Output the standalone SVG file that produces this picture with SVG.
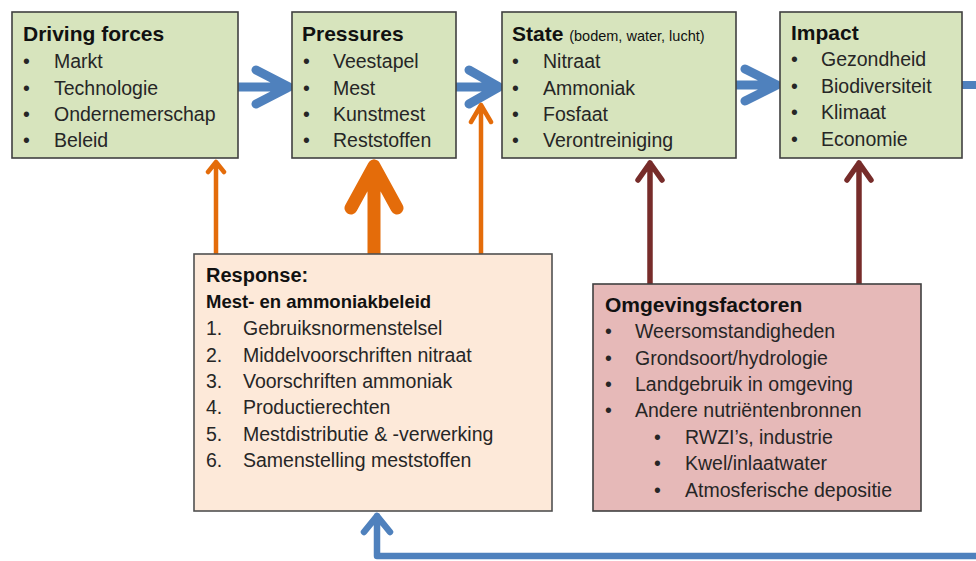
<svg xmlns="http://www.w3.org/2000/svg" width="976" height="561" viewBox="0 0 976 561">
<style>
text{font-family:"Liberation Sans",Arial,sans-serif;fill:#262626}
.t{font-size:21px;font-weight:bold;fill:#111}
.b{font-size:19.5px}
.s{font-size:14.5px;font-weight:normal}
.g{fill:#d7e4bd;stroke:#404040;stroke-width:1.6}
.r{fill:#fde9d9;stroke:#505050;stroke-width:1.6}
.p{fill:#e6b9b8;stroke:#404040;stroke-width:1.6}
.a{fill:none;stroke-linecap:round;stroke-linejoin:round}
.blue{stroke:#4f81bd}
.or{stroke:#e46c0a}
.dr{stroke:#772c2a}
</style>
<g id="connectors">
  <path class="a blue" stroke-width="9" d="M238 87 H289 M256 70 L289 87 L256 104"/>
  <path class="a blue" stroke-width="9" d="M456 87 H499 M469 70 L499 87 L469 104"/>
  <path class="a blue" stroke-width="9" d="M736 85 H777 M745 69 L777 85 L745 101"/>
  <path class="a blue" stroke-width="8" d="M962 85 H980"/>
  <path class="a blue" stroke-width="6.5" d="M980 556 H377 V516 M364 532 L377 516 L390 532"/>
  <path class="a or" stroke-width="4.5" d="M216 254 V162 M208 172 L216 162 L224 172"/>
  <path class="a or" stroke-width="13" d="M374 254 V166 M351 208 L374 166 L397 208"/>
  <path class="a or" stroke-width="4.5" d="M481 254 V105 M471 122 L481 105 L491 122"/>
  <path class="a dr" stroke-width="5.5" d="M650 284 V163 M638 180 L650 163 L662 180"/>
  <path class="a dr" stroke-width="5.5" d="M859 284 V163 M847 180 L859 163 L871 180"/>
</g>
<g id="driving">
  <rect class="g" x="12" y="12" width="226" height="146"/>
  <text class="t" x="23" y="41">Driving forces</text>
  <g class="b">
    <text x="23" y="68">•</text><text x="54" y="68">Markt</text>
    <text x="23" y="94.5">•</text><text x="54" y="94.5">Technologie</text>
    <text x="23" y="121">•</text><text x="54" y="121">Ondernemerschap</text>
    <text x="23" y="147">•</text><text x="54" y="147">Beleid</text>
  </g>
</g>
<g id="pressures">
  <rect class="g" x="292" y="12" width="164" height="146"/>
  <text class="t" x="302" y="41">Pressures</text>
  <g class="b">
    <text x="303" y="68">•</text><text x="333" y="68">Veestapel</text>
    <text x="303" y="94.5">•</text><text x="333" y="94.5">Mest</text>
    <text x="303" y="121">•</text><text x="333" y="121">Kunstmest</text>
    <text x="303" y="147">•</text><text x="333" y="147">Reststoffen</text>
  </g>
</g>
<g id="state">
  <rect class="g" x="502" y="12" width="234" height="146"/>
  <text class="t" x="512" y="41">State <tspan class="s">(bodem, water, lucht)</tspan></text>
  <g class="b">
    <text x="512" y="68">•</text><text x="543" y="68">Nitraat</text>
    <text x="512" y="94.5">•</text><text x="543" y="94.5">Ammoniak</text>
    <text x="512" y="121">•</text><text x="543" y="121">Fosfaat</text>
    <text x="512" y="147">•</text><text x="543" y="147">Verontreiniging</text>
  </g>
</g>
<g id="impact">
  <rect class="g" x="780" y="12" width="182" height="146"/>
  <text class="t" x="791" y="40">Impact</text>
  <g class="b">
    <text x="791" y="66">•</text><text x="821" y="66">Gezondheid</text>
    <text x="791" y="92.5">•</text><text x="821" y="92.5">Biodiversiteit</text>
    <text x="791" y="119">•</text><text x="821" y="119">Klimaat</text>
    <text x="791" y="145.5">•</text><text x="821" y="145.5">Economie</text>
  </g>
</g>
<g id="response">
  <rect class="r" x="194" y="254" width="358" height="257"/>
  <text class="t" x="206" y="282" style="font-size:20px">Response:</text>
  <text class="t" x="206" y="308" style="font-size:18.5px">Mest- en ammoniakbeleid</text>
  <g class="b">
    <text x="206" y="335">1.</text><text x="243" y="335">Gebruiksnormenstelsel</text>
    <text x="206" y="361.5">2.</text><text x="243" y="361.5">Middelvoorschriften nitraat</text>
    <text x="206" y="388">3.</text><text x="243" y="388">Voorschriften ammoniak</text>
    <text x="206" y="414">4.</text><text x="243" y="414">Productierechten</text>
    <text x="206" y="440.5">5.</text><text x="243" y="440.5">Mestdistributie &amp; -verwerking</text>
    <text x="206" y="467">6.</text><text x="243" y="467">Samenstelling meststoffen</text>
  </g>
</g>
<g id="omgevingsfactoren">
  <rect class="p" x="593" y="284" width="328" height="227"/>
  <text class="t" x="605" y="312">Omgevingsfactoren</text>
  <g class="b">
    <text x="605" y="338">•</text><text x="635" y="338">Weersomstandigheden</text>
    <text x="605" y="364.5">•</text><text x="635" y="364.5">Grondsoort/hydrologie</text>
    <text x="605" y="391">•</text><text x="635" y="391">Landgebruik in omgeving</text>
    <text x="605" y="417">•</text><text x="635" y="417">Andere nutriëntenbronnen</text>
    <text x="654" y="443.5">•</text><text x="685" y="443.5">RWZI’s, industrie</text>
    <text x="654" y="470">•</text><text x="685" y="470">Kwel/inlaatwater</text>
    <text x="654" y="496.5">•</text><text x="685" y="496.5">Atmosferische depositie</text>
  </g>
</g>
</svg>
